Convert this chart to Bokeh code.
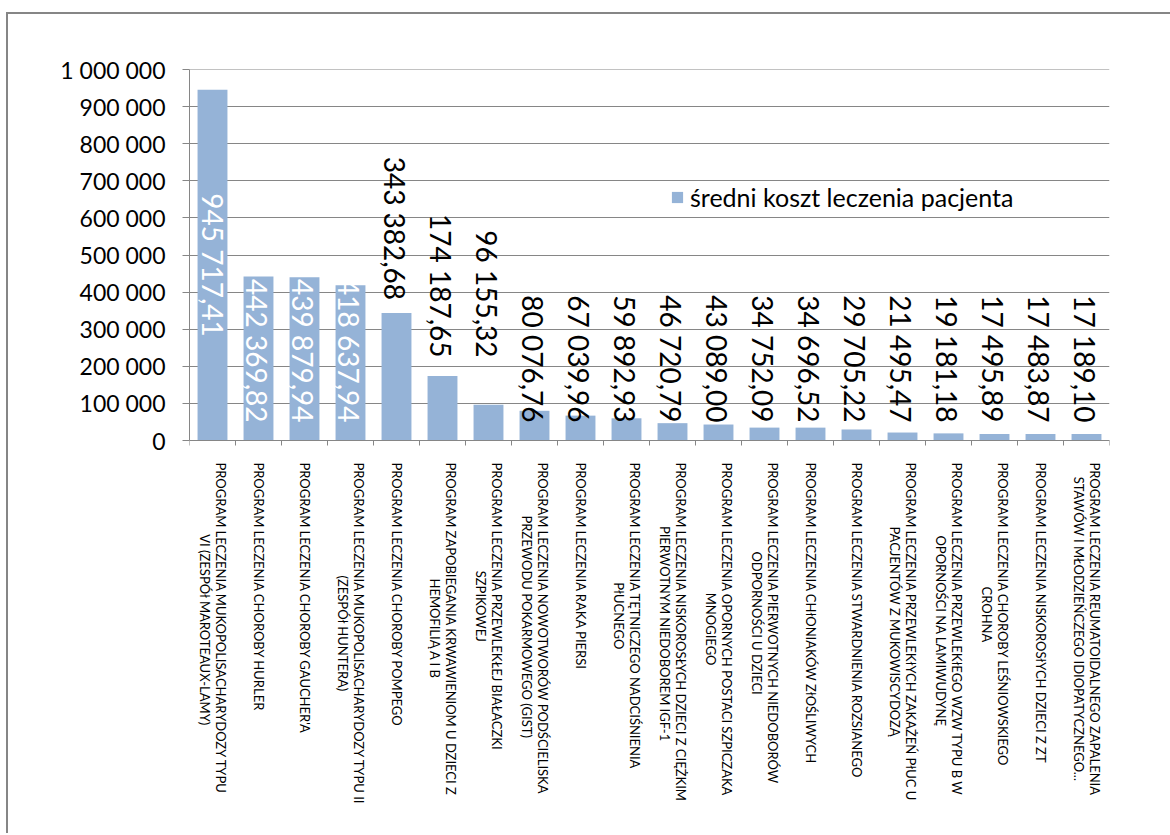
import math
from bokeh.plotting import figure
from bokeh.models import (ColumnDataSource, LabelSet, FixedTicker, Range1d,
                          Legend, LegendItem)
from bokeh.core.properties import value, field
from bokeh.embed import file_html
from bokeh.resources import INLINE

# ---------------- data ----------------
categories = [
    "PROGRAM LECZENIA  MUKOPOLISACHARYDOZY TYPU\nVI (ZESPÓł MAROTEAUX-LAMY)",
    "PROGRAM LECZENIA CHOROBY HURLER",
    "PROGRAM LECZENIA CHOROBY GAUCHER'A",
    "PROGRAM LECZENIA MUKOPOLISACHARYDOZY TYPU II\n(ZESPÓł HUNTERA)",
    "PROGRAM LECZENIA CHOROBY POMPEGO",
    "PROGRAM ZAPOBIEGANIA KRWAWIENIOM U DZIECI Z\nHEMOFILIĄ A I B",
    "PROGRAM LECZENIA PRZEWLEKŁEJ BIAŁACZKI\nSZPIKOWEJ",
    "PROGRAM LECZENIA NOWOTWORÓW PODŚCIELISKA\nPRZEWODU POKARMOWEGO  (GIST)",
    "PROGRAM LECZENIA RAKA PIERSI",
    "PROGRAM LECZENIA TĘTNICZEGO NADCIŚNIENIA\nPłUCNEGO",
    "PROGRAM LECZENIA  NISKOROSŁYCH DZIECI Z CIĘŻKIM\nPIERWOTNYM NIEDOBOREM IGF-1",
    "PROGRAM LECZENIA OPORNYCH POSTACI SZPICZAKA\nMNOGIEGO",
    "PROGRAM LECZENIA PIERWOTNYCH NIEDOBORÓW\nODPORNOŚCI U DZIECI",
    "PROGRAM LECZENIA CHłONIAKÓW ZłOŚLIWYCH",
    "PROGRAM LECZENIA STWARDNIENIA ROZSIANEGO",
    "PROGRAM LECZENIA PRZEWLEKłYCH ZAKAŻEŃ PłUC U\nPACJENTÓW Z MUKOWISCYDOZĄ",
    "PROGRAM LECZENIA PRZEWLEKłEGO WZW TYPU B  W\nOPORNOŚCI NA LAMIWUDYNĘ",
    "PROGRAM LECZENIA CHOROBY LEŚNIOWSKIEGO\nCROHNA",
    "PROGRAM LECZENIA NISKOROSłYCH DZIECI Z ZT",
    "PROGRAM LECZENIA REUMATOIDALNEGO ZAPALENIA\nSTAWÓW I MŁODZIEŃCZEGO IDIOPATYCZNEGO...",
]

srednii_koszt = [945717.41, 442369.82, 439879.94, 418637.94, 343382.68,
                 174187.65, 96155.32, 80076.76, 67039.96, 59892.93,
                 46720.79, 43089.00, 34752.09, 34696.52, 29705.22,
                 21495.47, 19181.18, 17495.89, 17483.87, 17189.10]

series_name = "średni koszt leczenia pacjenta"

y_ticks = [0, 100000, 200000, 300000, 400000, 500000,
           600000, 700000, 800000, 900000, 1000000]
y_tick_labels = ["0", "100 000", "200 000", "300 000", "400 000", "500 000",
                 "600 000", "700 000", "800 000", "900 000", "1 000 000"]

# ---------------- layout / styles ----------------
BAR_COLOR = "#95B3D7"
GRID_COLOR = "#868686"
FRAME_LEFT, FRAME_TOP, FRAME_RIGHT_PAD = 181, 55, 61
FRAME_W, FRAME_H = 920, 764
VALUE_PX = 371          # pixel height of the value area (0 .. max tick)
LABEL_PLACEMENT = ["mid", "base", "base", "base", "top", "raised", "raised"] + ["base"] * 13
LABEL_COLOR = ["white"] * 4 + ["black"] * 16
PLACEMENT_OFFSET = {"mid": 0, "base": 18, "top": 13, "raised": 83}


def fmt_pl(v):
    s = f"{v:,.2f}"
    return s.replace(",", " ").replace(".", ",")


n = len(categories)
xs = [i + 0.5 for i in range(n)]
y_top = y_ticks[-1]
y_bottom = -y_top * (FRAME_H - VALUE_PX) / VALUE_PX   # room below 0 for category labels

p = figure(frame_width=FRAME_W, frame_height=FRAME_H,
           output_backend="svg", toolbar_location=None,
           x_range=Range1d(0, n), y_range=Range1d(y_bottom, y_top * 1.000001),
           min_border_left=FRAME_LEFT, min_border_right=FRAME_RIGHT_PAD,
           min_border_top=FRAME_TOP, min_border_bottom=0,
           background_fill_color="white", border_fill_color="white")
p.outline_line_color = None
p.margin = (12, 0, 0, 6)
p.styles = {"border-left": "2px solid #868686", "border-top": "2px solid #868686"}

bar_src = ColumnDataSource(dict(x=xs, top=srednii_koszt))
bars = p.vbar(x="x", top="top", width=0.65, source=bar_src,
              fill_color=BAR_COLOR, line_color=None)

# y axis
p.yaxis.ticker = FixedTicker(ticks=y_ticks)
p.yaxis.bounds = (y_ticks[0], y_ticks[-1])
p.yaxis.major_label_overrides = {t: l for t, l in zip(y_ticks, y_tick_labels)}
p.yaxis.major_label_text_font = "Lato"
p.yaxis.major_label_text_font_size = "23px"
p.yaxis.major_label_text_color = "black"
p.yaxis.major_label_standoff = 17
p.yaxis.major_tick_in = 0
p.yaxis.major_tick_out = 7
p.yaxis.minor_tick_line_color = None
p.yaxis.axis_line_color = GRID_COLOR
p.yaxis.major_tick_line_color = GRID_COLOR

# x axis at value 0, tick marks at category boundaries
p.xaxis.fixed_location = 0
p.xaxis.ticker = FixedTicker(ticks=[], minor_ticks=list(range(n + 1)))
p.xaxis.major_tick_line_color = None
p.xaxis.major_tick_out = 0
p.xaxis.major_tick_in = 0
p.xaxis.minor_tick_in = 0
p.xaxis.minor_tick_out = 5
p.xaxis.minor_tick_line_color = GRID_COLOR
p.xaxis.axis_line_color = GRID_COLOR

p.xgrid.grid_line_color = None
p.ygrid.grid_line_color = GRID_COLOR
p.ygrid.grid_line_width = 1

# category labels, rotated to read downward, lines centred on each other
cat_src = ColumnDataSource(dict(x=xs, y=[0] * n, t=categories))
p.text(x="x", y="y", text="t", source=cat_src,
       angle=-math.pi / 2, y_offset=22,
       anchor=value("center_left"), text_align="center",
       text_baseline="middle", text_font=value("Lato"),
       text_font_size="13px", text_color="black", text_line_height=1.0)

# data labels
mid = [i for i in range(n) if LABEL_PLACEMENT[i] == "mid"]
rest = [i for i in range(n) if LABEL_PLACEMENT[i] != "mid"]


def anchor_y(i):
    mode = LABEL_PLACEMENT[i]
    if mode == "mid":
        return srednii_koszt[i] / 2
    if mode == "top":
        return srednii_koszt[i]
    return 0


mid_src = ColumnDataSource(dict(
    x=[xs[i] for i in mid], y=[anchor_y(i) for i in mid],
    t=[fmt_pl(srednii_koszt[i]) for i in mid],
    c=[LABEL_COLOR[i] for i in mid]))
rest_src = ColumnDataSource(dict(
    x=[xs[i] for i in rest], y=[anchor_y(i) for i in rest],
    t=[fmt_pl(srednii_koszt[i]) for i in rest],
    c=[LABEL_COLOR[i] for i in rest],
    off=[PLACEMENT_OFFSET[LABEL_PLACEMENT[i]] for i in rest]))

p.add_layout(LabelSet(x="x", y="y", text="t", source=mid_src,
                      angle=-math.pi / 2, text_align="center",
                      text_baseline="middle", text_color=field("c"),
                      text_font=value("Lato"), text_font_size="28px"))
p.add_layout(LabelSet(x="x", y="y", text="t", source=rest_src,
                      angle=-math.pi / 2, y_offset=field("off"), x_offset=-2,
                      text_align="right", text_baseline="middle",
                      text_color=field("c"),
                      text_font=value("Lato"), text_font_size="28px"))

# legend
legend = Legend(items=[LegendItem(label=series_name, renderers=[bars])],
                location=(481, FRAME_TOP + FRAME_H - 198), border_line_color=None,
                background_fill_alpha=0, padding=0, margin=0,
                glyph_width=14, glyph_height=14, label_standoff=6,
                label_text_font="Lato", label_text_font_size="25px",
                label_text_color="black")
p.add_layout(legend)

open("out.html", "w").write(file_html(p, INLINE))
